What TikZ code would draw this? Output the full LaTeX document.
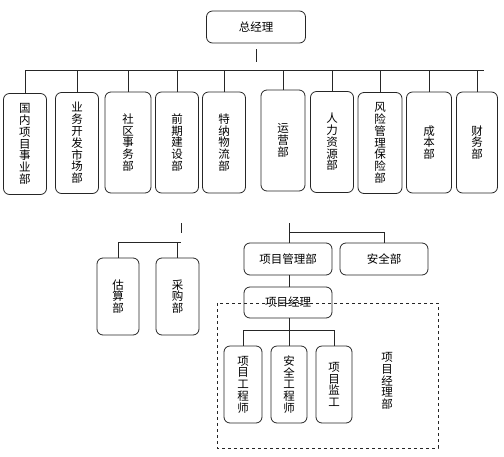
\documentclass[tikz,border=0pt]{standalone}
\usepackage{fontspec}
\setmainfont{Noto Sans CJK SC}
\usetikzlibrary{positioning}
\tikzstyle{dept} = [draw=black!85, rounded corners=6pt, line width=0.8pt,
align=center, inner sep=0pt,
font=\fontsize{11.5}{11.8}\selectfont]
\tikzstyle{tall} = [dept, minimum width=43pt, minimum height=101pt]
\tikzstyle{short} = [dept, minimum width=42pt, minimum height=77pt]
\tikzstyle{wide} = [dept, minimum width=88pt, minimum height=32pt]
\tikzstyle{line} = [draw=black!85, line width=0.8pt]

\begin{document}
\begin{tikzpicture}[x=1pt, y=-1pt, node distance=46pt]
    \useasboundingbox (0,0) rectangle (504,456);

    % top
    \node[wide, minimum width=99pt] (gm) at (256,27) {总经理};
    \coordinate (gmA) at (256,49);
    \coordinate (gmB) at (256,62);
    \coordinate (busL) at (25,70);
    \coordinate (busR) at (484,70);

    % departments
    \node[tall] (d1) at (25,144)  {国\\内\\项\\目\\事\\业\\部};
    \node[tall] (d2) at (77,143)  {业\\务\\开\\发\\市\\场\\部};
    \node[tall, minimum width=46pt] (d3) at (128,142.5) {社\\区\\事\\务\\部};
    \node[tall] (d4) at (177,142.5) {前\\期\\建\\设\\部};
    \node[tall] (d5) at (224,142.5) {特\\纳\\物\\流\\部};
    \node[tall, minimum width=44pt] (d6) at (283,140.5) {运\\营\\部};
    \node[tall] (d7) at (332,142)  {人\\力\\资\\源\\部};
    \node[tall, minimum width=44pt] (d8) at (380,143) {风\\险\\管\\理\\保\\险\\部};
    \node[tall, minimum width=45pt] (d9) at (429,142.5) {成\\本\\部};
    \node[tall, minimum width=41pt] (d10) at (477,142.5) {财\\务\\部};

    \draw[line] (gmA) -- (gmB);
    \draw[line] (busL) -- (busR);
    \foreach \d in {d1,d2,d3,d4,d5,d6,d7,d8,d9,d10}
        \draw[line] (\d.north) -- (\d.north |- busL);

    % left group
    \coordinate (lA) at (181,223);
    \coordinate (lB) at (181,233);
    \coordinate (lbus) at (181,242);
    \node[short] (est) at (118,296.5) {估\\算\\部};
    \node[short, minimum width=43pt] (buy) at (177.5,296.5) {采\\购\\部};
    \draw[line] (lA) -- (lB);
    \draw[line] (est.north) |- (lbus);
    \draw[line] (buy.north) -- (buy.north |- lbus);

    % project management
    \coordinate (rA) at (289,223);
    \coordinate (rbus) at (289,232);
    \node[wide] (pm) at (288,259) {项目管理部};
    \node[wide] (safe) at (384,259) {安全部};
    \node[wide, minimum height=31pt, below of=pm, node distance=43.5pt] (pmgr) {项目经理};
    \draw[line] (rA) -- (rA |- pm.north);
    \draw[line] (rbus) -| (safe.north);
    \draw[line] (pm.south -| rA) -- (pmgr.north -| rA);

    % project manager department
    \draw[line, dashed] (217,303) rectangle (438,448);
    \coordinate (pbus) at (289,330);
    \node[short, minimum width=38pt] (e1) at (243,384.5) {项\\目\\工\\程\\师};
    \node[short, minimum width=36pt] (e2) at (289,384.5) {安\\全\\工\\程\\师};
    \node[short, minimum width=36pt] (e3) at (334,384.5) {项\\目\\监\\工};
    \node[align=center, font=\fontsize{11.5}{11.8}\selectfont] (pmd) at (387,381) {项\\目\\经\\理\\部};
    \draw[line] (pmgr.south -| pbus) -- (pbus);
    \draw[line] (e1.north) |- (pbus);
    \draw[line] (e3.north) |- (pbus);
    \draw[line] (e2.north) -- (e2.north |- pbus);
\end{tikzpicture}
\end{document}
